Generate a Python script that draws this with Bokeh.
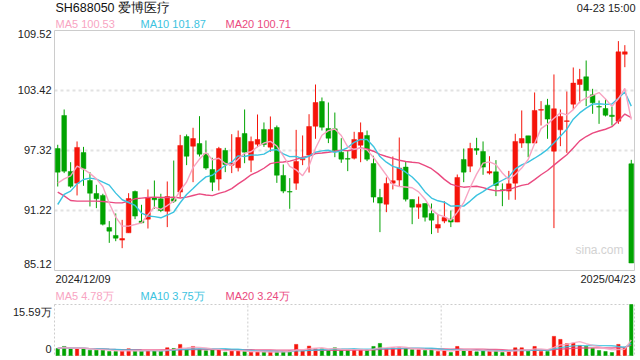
import pandas as pd
from bokeh.plotting import figure
from bokeh.models import Range1d, ColumnDataSource
from bokeh.core.properties import value
from bokeh.embed import file_html
from bokeh.resources import INLINE

# ---------------- data ----------------
title_text = "SH688050 爱博医疗"
time_text = "04-23 15:00"
date_labels = ["2024/12/09", "2025/04/23"]
price_ticks = [109.52, 103.42, 97.32, 91.22, 85.12]
price_tick_labels = ["109.52", "103.42", "97.32", "91.22", "85.12"]
vol_max = 15.59
vol_tick_labels = ["15.59万", "0"]
ma_price_text = ["MA5 100.53", "MA10 101.87", "MA20 100.71"]
ma_vol_text = ["MA5 4.78万", "MA10 3.75万", "MA20 3.24万"]

opens = [97.52, 100.88, 95.19, 94.00, 97.12, 94.27, 92.95, 92.75, 89.49, 88.68,
         88.21, 88.95, 93.15, 90.14, 90.34, 92.48, 92.41, 91.15, 92.41, 93.09,
         98.74, 97.76, 98.03, 96.98, 95.39, 94.41, 97.32, 95.83, 95.56, 99.05,
         96.34, 97.96, 99.46, 97.66, 99.66, 94.78, 93.15, 94.00, 96.37, 96.85,
         99.79, 102.30, 99.56, 99.52, 97.15, 96.51, 96.54, 97.86, 98.85, 96.00,
         92.54, 91.86, 94.00, 94.31, 95.63, 92.34, 91.56, 91.93, 90.92, 89.43,
         90.14, 90.34, 90.04, 96.41, 95.73, 97.52, 97.22, 95.02, 95.15, 93.32,
         93.19, 94.00, 98.07, 98.81, 98.07, 101.42, 101.93, 97.25, 99.42, 100.27,
         102.03, 104.03, 104.81, 102.98, 101.79, 101.59, 100.91, 100.30, 107.11, 95.97]
highs = [97.90, 101.49, 96.13, 98.24, 97.69, 95.12, 93.83, 92.92, 90.14, 90.92,
         90.27, 92.98, 93.25, 91.80, 93.36, 94.27, 92.92, 94.17, 96.30, 98.91,
         98.95, 99.63, 100.81, 98.34, 96.58, 97.69, 97.59, 98.98, 99.35, 101.49,
         98.74, 100.98, 100.17, 100.78, 99.86, 95.90, 94.51, 99.42, 98.85, 101.01,
         104.03, 102.71, 102.20, 101.18, 98.57, 97.32, 99.22, 100.17, 99.35, 96.78,
         93.42, 94.58, 96.71, 98.64, 96.20, 92.34, 92.64, 91.93, 91.93, 90.85,
         92.17, 91.22, 94.88, 97.52, 98.10, 98.61, 98.24, 96.74, 96.34, 93.97,
         95.25, 99.02, 101.39, 98.81, 103.22, 102.34, 102.57, 105.05, 101.49, 103.32,
         105.76, 105.62, 106.47, 103.59, 102.40, 102.57, 101.79, 108.44, 108.03, 96.37]
lows = [93.66, 95.02, 93.53, 92.75, 93.73, 91.63, 91.46, 89.70, 87.93, 88.10,
        87.39, 88.95, 90.34, 89.93, 89.39, 91.39, 91.05, 89.53, 92.00, 92.58,
        95.83, 94.10, 96.71, 95.36, 93.19, 93.25, 95.12, 95.02, 95.19, 96.03,
        95.12, 97.66, 97.69, 97.19, 94.03, 92.98, 91.39, 93.32, 95.83, 95.08,
        98.51, 99.35, 98.07, 96.64, 96.07, 95.22, 96.41, 96.13, 96.24, 92.03,
        89.02, 91.05, 93.36, 93.69, 92.14, 89.83, 90.37, 90.10, 88.82, 88.95,
        89.93, 89.53, 90.04, 94.10, 95.12, 96.88, 94.85, 94.88, 92.68, 91.66,
        92.31, 92.31, 97.59, 96.64, 98.07, 99.86, 98.51, 89.43, 97.76, 97.08,
        101.52, 102.13, 101.83, 101.05, 100.03, 100.78, 99.86, 100.03, 105.79, 85.88]
closes = [95.12, 95.22, 93.69, 97.63, 95.46, 92.98, 92.41, 89.83, 89.12, 88.41,
          88.37, 92.44, 90.65, 89.97, 92.48, 92.31, 91.22, 92.64, 92.17, 97.83,
          96.74, 98.54, 96.95, 95.53, 94.10, 97.52, 95.90, 96.03, 98.64, 97.15,
          98.24, 98.44, 97.93, 99.46, 94.81, 93.19, 93.09, 96.20, 96.51, 99.76,
          102.20, 99.69, 98.57, 97.32, 96.44, 96.44, 98.44, 99.15, 96.44, 92.58,
          91.97, 93.97, 94.24, 95.53, 92.37, 91.56, 91.86, 90.54, 90.24, 89.80,
          90.51, 90.04, 94.58, 95.12, 97.52, 97.35, 95.63, 95.19, 93.76, 93.25,
          93.93, 98.24, 98.54, 98.07, 101.39, 101.49, 100.51, 101.56, 100.78, 100.34,
          104.17, 104.54, 103.42, 102.17, 101.73, 100.91, 100.78, 107.35, 107.35, 85.88]
volumes = [2.15, 2.77, 1.95, 2.05, 2.05, 1.64, 1.64, 1.64, 1.23, 1.23,
           1.33, 2.05, 1.33, 1.33, 1.54, 1.44, 1.54, 2.36, 2.15, 3.39,
           1.95, 2.77, 1.95, 1.44, 1.74, 1.74, 1.03, 1.44, 1.44, 1.23,
           1.03, 1.03, 1.03, 1.13, 1.23, 1.23, 1.33, 3.39, 1.44, 2.87,
           2.05, 2.05, 1.54, 2.36, 1.54, 1.74, 1.74, 1.74, 1.74, 2.77,
           3.69, 2.15, 2.36, 2.36, 2.15, 1.74, 1.74, 1.54, 1.74, 1.23,
           1.54, 0.92, 2.77, 1.54, 1.54, 1.13, 1.54, 1.23, 1.44, 0.92,
           1.23, 2.36, 2.36, 1.33, 2.77, 1.23, 1.23, 5.85, 4.92, 3.59,
           3.80, 3.08, 2.77, 2.15, 1.54, 1.23, 0.92, 3.39, 2.56, 15.59]
# moving-average values before a full window is available
ma5_head = [94.00, 94.44, 94.75, 95.73]
ma10_head = [91.83, 92.85, 93.19, 93.93, 94.37, 94.51, 94.41, 94.10, 93.80]
ma20_head = [93.09, 92.71, 92.24, 92.17, 92.17, 92.17, 92.17, 92.14, 92.07, 92.00,
             92.00, 92.17, 92.41, 92.48, 92.54, 92.58, 92.54, 92.54, 92.58]

# ---------------- styles ----------------
RED = "#f5140a"
GREEN = "#00a300"
C_MA5 = "#f8a4c2"
C_MA10 = "#3cc3e0"
C_MA20 = "#ea4a80"
FONT = "Liberation Sans"
TXT = "#222222"

n = len(closes)
xs = list(range(n))
cl = pd.Series(closes)


def ma(series, w, head):
    r = series.rolling(w).mean().tolist()
    return head + r[len(head):]


ma5 = ma(cl, 5, ma5_head)
ma10 = ma(cl, 10, ma10_head)
ma20 = ma(cl, 20, ma20_head)

vs = pd.Series(volumes)
vma5 = vs.rolling(5, min_periods=1).mean().tolist()
vma10 = vs.rolling(10, min_periods=1).mean().tolist()
vma20 = vs.rolling(20, min_periods=1).mean().tolist()

colors = [RED if c >= o else GREEN for o, c in zip(opens, closes)]
src = ColumnDataSource(dict(
    x=xs, open=opens, high=highs, low=lows, close=closes,
    top=[max(o, c) for o, c in zip(opens, closes)],
    bottom=[min(o, c) for o, c in zip(opens, closes)],
    color=colors, vol=volumes,
    ma5=ma5, ma10=ma10, ma20=ma20, vma5=vma5, vma10=vma10, vma20=vma20))

# ---------------- geometry (page pixels) ----------------
W, H = 640, 360
FL, FR = 54, 634           # chart area left / right
T1, B1 = 30, 270           # price panel top / bottom
T2, B2 = 304, 355          # volume panel top / bottom
X0, X1 = -0.5, n - 0.5
YLO, YHI = price_ticks[-1], price_ticks[0]


def px(page_x):
    return X0 + (page_x - FL) * (X1 - X0) / (FR - FL)


def py1(page_y):
    return YHI - (page_y - T1) * (YHI - YLO) / (B1 - T1)


def py2(page_y):
    return vol_max * (B2 - page_y) / (B2 - T2)


p = figure(width=W, height=H, output_backend="svg", toolbar_location=None,
           x_axis_type=None, y_axis_type=None,
           x_range=Range1d(px(0), px(W)), y_range=Range1d(py1(H), py1(0)),
           min_border=0, min_border_left=0, min_border_right=0,
           min_border_top=0, min_border_bottom=0)
p.extra_y_ranges = {"vol": Range1d(py2(H), py2(0))}
p.outline_line_color = None
p.background_fill_color = "white"
p.border_fill_color = "white"

# ---- price panel ----
mid = price_ticks[1:-1]
p.segment(x0=[X0] * len(mid), x1=[X1] * len(mid), y0=mid, y1=mid,
          line_color="#e2e2e2", line_width=2, line_dash="3 3")
p.quad(left=[X0], right=[X1], bottom=[YLO], top=[YHI], fill_color=None,
       line_color="#cccccc", line_width=1)

p.segment(x0="x", y0="low", x1="x", y1="high", color="color", line_width=1, source=src)
p.vbar(x="x", top="top", bottom="bottom", width=0.74, fill_color="color",
       line_color="color", line_width=0.5, source=src)
p.line("x", "ma20", source=src, color=C_MA20, line_width=1.4)
p.line("x", "ma10", source=src, color=C_MA10, line_width=1.4)
p.line("x", "ma5", source=src, color=C_MA5, line_width=1.4)

# ---- volume panel ----
VR = "vol"
p.quad(left=[X0], right=[X1], bottom=[0], top=[vol_max], fill_color=None,
       line_color="#cccccc", line_width=1, line_dash="2 2", y_range_name=VR)
p.segment(x0=[n / 3 - 0.5, 2 * n / 3 - 0.5], x1=[n / 3 - 0.5, 2 * n / 3 - 0.5],
          y0=[0, 0], y1=[vol_max, vol_max], line_color="#cccccc", line_width=1,
          line_dash="2 2", y_range_name=VR)
p.vbar(x="x", top="vol", bottom=0, width=0.52, fill_color="color",
       line_color="color", line_width=0.5, source=src, y_range_name=VR)
p.line("x", "vma20", source=src, color=C_MA20, line_width=1.4, alpha=0.85, y_range_name=VR)
p.line("x", "vma10", source=src, color=C_MA10, line_width=1.4, alpha=0.85, y_range_name=VR)
p.line("x", "vma5", source=src, color=C_MA5, line_width=1.4, alpha=0.85, y_range_name=VR)


# ---- texts ----
def txt(x, y, text, size="11px", color=TXT, align="left", yr="default"):
    p.text(x=x, y=y, text=text, text_font=value(FONT), text_font_size=value(size),
           text_color=color, text_align=align, text_baseline="middle", y_range_name=yr)


txt([px(55)], [py1(7.5)], [title_text], size="12.5px", color="#111111")
txt([px(635)], [py1(7.5)], [time_text], align="right")
for xp, t, c in zip([55, 140, 225], ma_price_text, [C_MA5, C_MA10, C_MA20]):
    txt([px(xp)], [py1(23.5)], [t], color=c)
tick_page_y = [33.5, 89.5, 149.5, 209.5, 263.5]
txt([px(51)] * len(price_ticks), [py1(v) for v in tick_page_y], price_tick_labels, align="right")
txt([px(55)], [py1(278)], [date_labels[0]])
txt([px(635)], [py1(278)], [date_labels[1]], align="right")
txt([px(623)], [py1(249)], ["sina.com"], size="12px", color="#d2d2d2", align="right")

for xp, t, c in zip([55, 140, 225], ma_vol_text, [C_MA5, C_MA10, C_MA20]):
    txt([px(xp)], [py2(295)], [t], color=c, yr=VR)
txt([px(51), px(51)], [py2(311), py2(348.5)], vol_tick_labels, align="right", yr=VR)

open("out.html", "w").write(file_html(p, INLINE))
